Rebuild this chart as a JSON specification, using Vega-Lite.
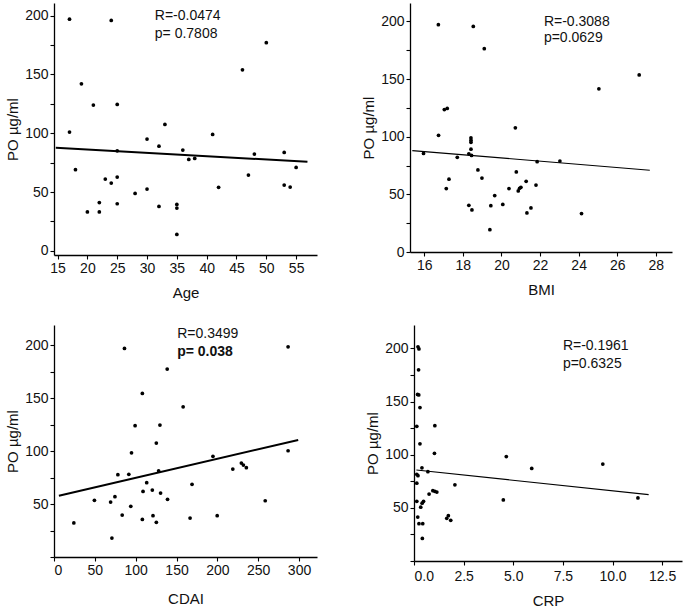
{
  "$schema": "https://vega.github.io/schema/vega-lite/v6.json",
  "background": "white",
  "padding": {"left": 5, "top": 3, "right": 3, "bottom": 0},
  "config": {
    "view": {"stroke": null},
    "font": "Liberation Sans",
    "axis": {
      "grid": false,
      "labelOverlap": false,
      "domainColor": "#000",
      "domainWidth": 1.3,
      "tickColor": "#000",
      "tickWidth": 1.1,
      "tickSize": 4,
      "labelFont": "Liberation Sans",
      "labelFontSize": 14,
      "labelColor": "#111",
      "labelPadding": 2,
      "titleFont": "Liberation Sans",
      "titleFontSize": 15,
      "titleFontWeight": "normal",
      "titleColor": "#111"
    }
  },
  "datasets": {
    "age": [
      {"Age": 17, "PO": 197}, {"Age": 24, "PO": 196}, {"Age": 19, "PO": 142}, {"Age": 21, "PO": 124},
      {"Age": 25, "PO": 124.5}, {"Age": 17, "PO": 101}, {"Age": 18, "PO": 69}, {"Age": 20, "PO": 33},
      {"Age": 22, "PO": 41}, {"Age": 22, "PO": 33}, {"Age": 23, "PO": 61}, {"Age": 24, "PO": 57.6},
      {"Age": 25, "PO": 85}, {"Age": 25, "PO": 62.7}, {"Age": 25, "PO": 40}, {"Age": 28, "PO": 48.8},
      {"Age": 30, "PO": 95}, {"Age": 30, "PO": 52.5}, {"Age": 32, "PO": 89}, {"Age": 32, "PO": 37.7},
      {"Age": 33, "PO": 107.5}, {"Age": 35, "PO": 39.4}, {"Age": 35, "PO": 36.3}, {"Age": 35, "PO": 13.9},
      {"Age": 36, "PO": 85.7}, {"Age": 37, "PO": 77.7}, {"Age": 38, "PO": 78.6}, {"Age": 41, "PO": 99},
      {"Age": 42, "PO": 54}, {"Age": 46, "PO": 154}, {"Age": 47, "PO": 64.4}, {"Age": 48, "PO": 82.3},
      {"Age": 50, "PO": 177}, {"Age": 53, "PO": 83.7}, {"Age": 53, "PO": 55.9}, {"Age": 54, "PO": 54.2},
      {"Age": 55, "PO": 70.9}
    ],
    "age_fit": [{"Age": 14.7, "PO": 87.7}, {"Age": 56.9, "PO": 75.7}],
    "age_txt": [{"Age": 31.3, "PO": 196, "label": "R=-0.0474"}, {"Age": 31.3, "PO": 180.7, "label": "p= 0.7808"}],
    "bmi": [
      {"BMI": 16.73, "PO": 197.2}, {"BMI": 18.54, "PO": 195.7}, {"BMI": 19.11, "PO": 176.4}, {"BMI": 27.14, "PO": 153.6},
      {"BMI": 25.05, "PO": 141.6}, {"BMI": 17.04, "PO": 123.6}, {"BMI": 17.19, "PO": 124.5}, {"BMI": 16.74, "PO": 101.2},
      {"BMI": 20.72, "PO": 107.7}, {"BMI": 18.42, "PO": 98.9}, {"BMI": 18.42, "PO": 96.9}, {"BMI": 18.42, "PO": 95.2},
      {"BMI": 18.42, "PO": 89.2}, {"BMI": 15.96, "PO": 85.5}, {"BMI": 18.31, "PO": 85.2}, {"BMI": 18.45, "PO": 83.8},
      {"BMI": 17.71, "PO": 82.1}, {"BMI": 21.85, "PO": 78.3}, {"BMI": 23.03, "PO": 78.9}, {"BMI": 18.78, "PO": 71.2},
      {"BMI": 20.77, "PO": 69.5}, {"BMI": 17.28, "PO": 63.2}, {"BMI": 18.99, "PO": 64.1}, {"BMI": 17.14, "PO": 55.0},
      {"BMI": 20.39, "PO": 55.0}, {"BMI": 21.28, "PO": 61.3}, {"BMI": 21.01, "PO": 56.1}, {"BMI": 20.94, "PO": 55.3},
      {"BMI": 20.87, "PO": 53.0}, {"BMI": 21.79, "PO": 58.1}, {"BMI": 19.65, "PO": 49.0}, {"BMI": 18.31, "PO": 40.5},
      {"BMI": 18.47, "PO": 36.5}, {"BMI": 19.45, "PO": 40.2}, {"BMI": 20.07, "PO": 41.3}, {"BMI": 21.53, "PO": 38.2},
      {"BMI": 21.32, "PO": 33.9}, {"BMI": 19.4, "PO": 19.4}, {"BMI": 24.15, "PO": 33.3}
    ],
    "bmi_fit": [{"BMI": 15.38, "PO": 88.0}, {"BMI": 27.69, "PO": 70.9}],
    "bmi_txt": [{"BMI": 22.2, "PO": 196.3, "label": "R=-0.3088"}, {"BMI": 22.2, "PO": 182, "label": "p=0.0629"}],
    "cdai": [
      {"CDAI": 99.3, "PO": 123.9}, {"CDAI": 129.7, "PO": 124.5}, {"CDAI": 125.3, "PO": 107.5}, {"CDAI": 94.9, "PO": 98.4},
      {"CDAI": 194.6, "PO": 95.0}, {"CDAI": 229.4, "PO": 88.7}, {"CDAI": 231.9, "PO": 86.8}, {"CDAI": 235.5, "PO": 84.3},
      {"CDAI": 218.9, "PO": 83.0}, {"CDAI": 78.2, "PO": 77.7}, {"CDAI": 91.6, "PO": 78.0}, {"CDAI": 128.1, "PO": 81.4},
      {"CDAI": 113.5, "PO": 70.1}, {"CDAI": 169, "PO": 68.6}, {"CDAI": 109, "PO": 61.9}, {"CDAI": 120.4, "PO": 63.2},
      {"CDAI": 130.5, "PO": 60.4}, {"CDAI": 139, "PO": 54.4}, {"CDAI": 49.5, "PO": 53.5}, {"CDAI": 69.3, "PO": 51.9},
      {"CDAI": 74.6, "PO": 56.9}, {"CDAI": 94, "PO": 47.8}, {"CDAI": 83.5, "PO": 39.6}, {"CDAI": 108.2, "PO": 35.5},
      {"CDAI": 121.2, "PO": 39}, {"CDAI": 125.3, "PO": 32.7}, {"CDAI": 166.6, "PO": 36.8}, {"CDAI": 199.8, "PO": 39},
      {"CDAI": 24.3, "PO": 32.1}, {"CDAI": 70.9, "PO": 17.9}, {"CDAI": 86.3, "PO": 196.9}, {"CDAI": 286.6, "PO": 198.4},
      {"CDAI": 138.6, "PO": 177.4}, {"CDAI": 108.2, "PO": 154.4}, {"CDAI": 158.1, "PO": 141.8}, {"CDAI": 286.6, "PO": 100.3},
      {"CDAI": 258.6, "PO": 53.1}
    ],
    "cdai_fit": [{"CDAI": 6, "PO": 57.8}, {"CDAI": 299, "PO": 110.5}],
    "cdai_txt": [{"CDAI": 150.8, "PO": 206.6, "label": "R=0.3499"}],
    "cdai_txt2": [{"CDAI": 150.8, "PO": 190, "label": "p= 0.038"}],
    "crp": [
      {"CRP": 0.2, "PO": 201.5}, {"CRP": 0.25, "PO": 199.5}, {"CRP": 0.23, "PO": 179.9}, {"CRP": 0.18, "PO": 156.7},
      {"CRP": 0.24, "PO": 156.2}, {"CRP": 0.3, "PO": 144.3}, {"CRP": 0.14, "PO": 126.7}, {"CRP": 1.05, "PO": 127.3},
      {"CRP": 0.3, "PO": 110.2}, {"CRP": 1.03, "PO": 101.3}, {"CRP": 4.65, "PO": 98.2}, {"CRP": 0.4, "PO": 87.7},
      {"CRP": 0.14, "PO": 81.5}, {"CRP": 0.2, "PO": 80.3}, {"CRP": 0.7, "PO": 84.0}, {"CRP": 0.14, "PO": 73.2},
      {"CRP": 2.06, "PO": 71.7}, {"CRP": 0.95, "PO": 66.1}, {"CRP": 1.05, "PO": 65.5}, {"CRP": 1.15, "PO": 64.9},
      {"CRP": 0.76, "PO": 63.0}, {"CRP": 0.14, "PO": 56.2}, {"CRP": 0.48, "PO": 56.2}, {"CRP": 0.41, "PO": 54.4},
      {"CRP": 0.34, "PO": 50.6}, {"CRP": 0.19, "PO": 41.3}, {"CRP": 0.25, "PO": 35.1}, {"CRP": 0.44, "PO": 35.1},
      {"CRP": 1.65, "PO": 40.1}, {"CRP": 1.73, "PO": 42.6}, {"CRP": 1.85, "PO": 38.3}, {"CRP": 0.42, "PO": 21.2},
      {"CRP": 4.5, "PO": 57.4}, {"CRP": 5.93, "PO": 87.1}, {"CRP": 9.51, "PO": 91.2}, {"CRP": 11.28, "PO": 59.3}
    ],
    "crp_fit": [{"CRP": 0.12, "PO": 85.6}, {"CRP": 11.82, "PO": 62.4}],
    "crp_txt": [{"CRP": 7.5, "PO": 198.5, "label": "R=-0.1961"}, {"CRP": 7.5, "PO": 181.4, "label": "p=0.6325"}]
  },
  "spacing": 25,
  "vconcat": [
    {
      "spacing": 44,
      "hconcat": [
        {
          "width": 263,
          "height": 252,
          "layer": [
            {
              "data": {"name": "age"},
              "mark": {"type": "point", "filled": true, "color": "#000", "size": 14, "opacity": 1},
              "encoding": {
                "x": {"field": "Age", "type": "quantitative", "scale": {"domain": [14.4, 58.5], "nice": false, "zero": false},
                      "axis": {"values": [15, 20, 25, 30, 35, 40, 45, 50, 55], "format": "d", "tickCount": 30, "labelOverlap": false, "title": "Age", "titlePadding": 10, "labelDx": 3}},
                "y": {"field": "PO", "type": "quantitative", "scale": {"domain": [-3.6, 210.8], "nice": false, "zero": false},
                      "axis": {"values": [0, 25, 50, 75, 100, 125, 150, 175, 200], "format": "d", "tickCount": 30, "labelOverlap": false, "labelExpr": "datum.value % 50 == 0 ? datum.label : ''", "title": "PO µg/ml", "titlePadding": 4}}
              }
            },
            {
              "data": {"name": "age_fit"},
              "mark": {"type": "line", "color": "#000", "strokeWidth": 2},
              "encoding": {"x": {"field": "Age", "type": "quantitative"}, "y": {"field": "PO", "type": "quantitative"}}
            },
            {
              "data": {"name": "age_txt"},
              "mark": {"type": "text", "align": "left", "baseline": "alphabetic", "fontSize": 14, "color": "#111"},
              "encoding": {"x": {"field": "Age", "type": "quantitative"}, "y": {"field": "PO", "type": "quantitative"}, "text": {"field": "label"}}
            }
          ]
        },
        {
          "width": 262,
          "height": 249,
          "layer": [
            {
              "data": {"name": "bmi"},
              "mark": {"type": "point", "filled": true, "color": "#000", "size": 14, "opacity": 1},
              "encoding": {
                "x": {"field": "BMI", "type": "quantitative", "scale": {"domain": [15.26, 28.84], "nice": false, "zero": false},
                      "axis": {"values": [16, 18, 20, 22, 24, 26, 28], "format": "d", "tickCount": 30, "labelOverlap": false, "title": "BMI", "titlePadding": 10, "labelDx": 3}},
                "y": {"field": "PO", "type": "quantitative", "scale": {"domain": [0, 216], "nice": false, "zero": false},
                      "axis": {"values": [0, 25, 50, 75, 100, 125, 150, 175, 200], "format": "d", "tickCount": 30, "labelOverlap": false, "labelExpr": "datum.value % 50 == 0 ? datum.label : ''", "title": "PO µg/ml", "titlePadding": 4}}
              }
            },
            {
              "data": {"name": "bmi_fit"},
              "mark": {"type": "line", "color": "#000", "strokeWidth": 1.2},
              "encoding": {"x": {"field": "BMI", "type": "quantitative"}, "y": {"field": "PO", "type": "quantitative"}}
            },
            {
              "data": {"name": "bmi_txt"},
              "mark": {"type": "text", "align": "left", "baseline": "alphabetic", "fontSize": 14, "color": "#111"},
              "encoding": {"x": {"field": "BMI", "type": "quantitative"}, "y": {"field": "PO", "type": "quantitative"}, "text": {"field": "label"}}
            }
          ]
        }
      ]
    },
    {
      "spacing": 48,
      "hconcat": [
        {
          "width": 263,
          "height": 232,
          "layer": [
            {
              "data": {"name": "cdai"},
              "mark": {"type": "point", "filled": true, "color": "#000", "size": 14, "opacity": 1},
              "encoding": {
                "x": {"field": "CDAI", "type": "quantitative", "scale": {"domain": [0, 322], "nice": false, "zero": false},
                      "axis": {"values": [0, 50, 100, 150, 200, 250, 300], "format": "d", "tickCount": 30, "labelOverlap": false, "title": "CDAI", "titlePadding": 14, "labelDx": 2}},
                "y": {"field": "PO", "type": "quantitative", "scale": {"domain": [0, 219], "nice": false, "zero": false},
                      "axis": {"values": [0, 25, 50, 75, 100, 125, 150, 175, 200], "format": "d", "tickCount": 30, "labelOverlap": false, "labelExpr": "datum.value % 50 == 0 && datum.value > 0 ? datum.label : ''", "title": "PO µg/ml", "titlePadding": 4}}
              }
            },
            {
              "data": {"name": "cdai_fit"},
              "mark": {"type": "line", "color": "#000", "strokeWidth": 2},
              "encoding": {"x": {"field": "CDAI", "type": "quantitative"}, "y": {"field": "PO", "type": "quantitative"}}
            },
            {
              "data": {"name": "cdai_txt"},
              "mark": {"type": "text", "align": "left", "baseline": "alphabetic", "fontSize": 14, "color": "#111"},
              "encoding": {"x": {"field": "CDAI", "type": "quantitative"}, "y": {"field": "PO", "type": "quantitative"}, "text": {"field": "label"}}
            },
            {
              "data": {"name": "cdai_txt2"},
              "mark": {"type": "text", "align": "left", "baseline": "alphabetic", "fontSize": 14, "fontWeight": "bold", "color": "#111"},
              "encoding": {"x": {"field": "CDAI", "type": "quantitative"}, "y": {"field": "PO", "type": "quantitative"}, "text": {"field": "label"}}
            }
          ]
        },
        {
          "width": 268,
          "height": 236,
          "layer": [
            {
              "data": {"name": "crp"},
              "mark": {"type": "point", "filled": true, "color": "#000", "size": 14, "opacity": 1},
              "encoding": {
                "x": {"field": "CRP", "type": "quantitative", "scale": {"domain": [0, 13.5], "nice": false, "zero": false},
                      "axis": {"values": [0, 2.5, 5, 7.5, 10, 12.5], "tickCount": 30, "labelOverlap": false, "format": ".1f", "title": "CRP", "titlePadding": 10, "labelPadding": 4, "labelDx": 11}},
                "y": {"field": "PO", "type": "quantitative", "scale": {"domain": [0, 222], "nice": false, "zero": false},
                      "axis": {"values": [0, 25, 50, 75, 100, 125, 150, 175, 200], "format": "d", "tickCount": 30, "labelOverlap": false, "labelExpr": "datum.value % 50 == 0 && datum.value > 0 ? datum.label : ''", "title": "PO µg/ml", "titlePadding": 4}}
              }
            },
            {
              "data": {"name": "crp_fit"},
              "mark": {"type": "line", "color": "#000", "strokeWidth": 1.2},
              "encoding": {"x": {"field": "CRP", "type": "quantitative"}, "y": {"field": "PO", "type": "quantitative"}}
            },
            {
              "data": {"name": "crp_txt"},
              "mark": {"type": "text", "align": "left", "baseline": "alphabetic", "fontSize": 14, "color": "#111"},
              "encoding": {"x": {"field": "CRP", "type": "quantitative"}, "y": {"field": "PO", "type": "quantitative"}, "text": {"field": "label"}}
            }
          ]
        }
      ]
    }
  ]
}
